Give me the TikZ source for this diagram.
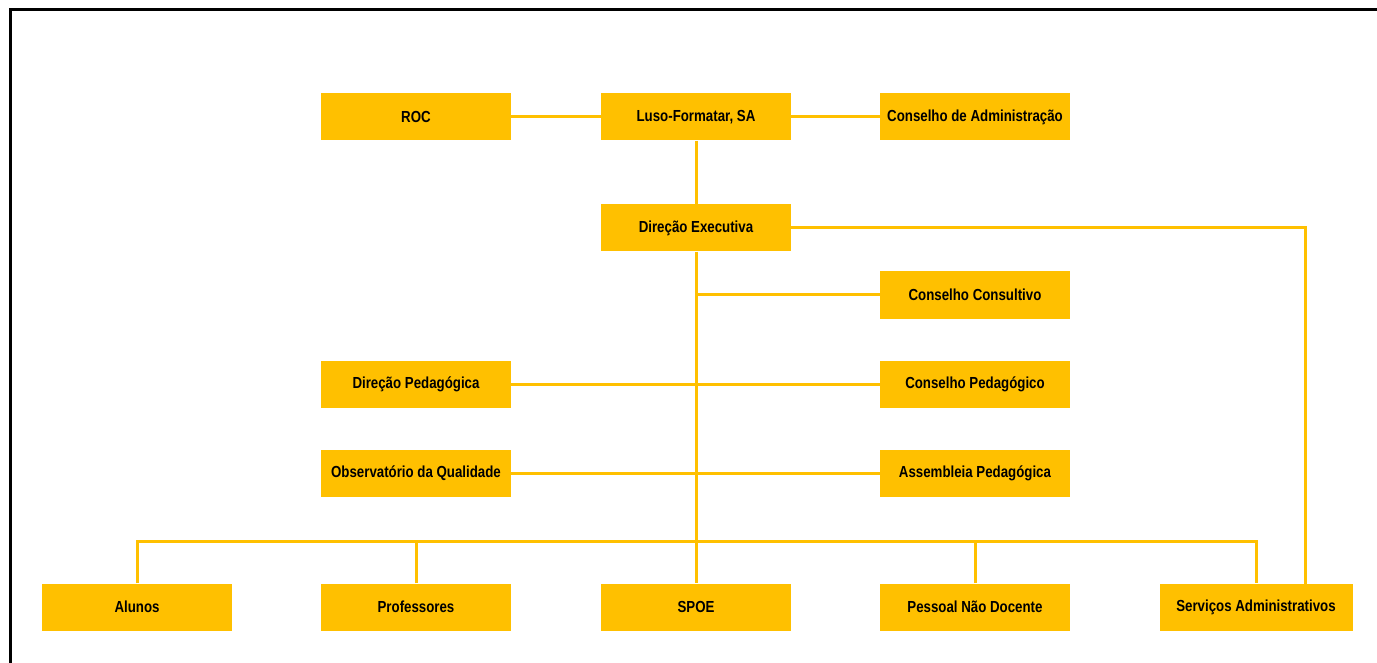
\documentclass[tikz,border=0pt]{standalone}
\usepackage{fontspec}
\setmainfont{Liberation Sans}[FakeStretch=0.83]
\definecolor{boxc}{HTML}{FFC000}
\begin{document}
\begin{tikzpicture}[x=1pt,y=-1pt,
  orgbox/.style={rectangle, fill=boxc, minimum width=190pt, minimum height=47pt, inner sep=0pt,
    font=\fontsize{16}{18}\selectfont\bfseries, text=black},
  conn/.style={draw=boxc, line width=3pt}]
\useasboundingbox (0,0) rectangle (1377,663);
\draw[line width=3pt] (1377,10) -- (10,10) -- (10,663);
% nodes
\node[orgbox] (roc) at (416,117) {ROC};
\node[orgbox] (luso) at (696,117) {Luso-Formatar, SA};
\node[orgbox] (ca) at (975,117) {Conselho de Administração};
\node[orgbox] (de) at (696,228) {Direção Executiva};
\node[orgbox] (cc) at (975,295) {Conselho Consultivo};
\node[orgbox] (dp) at (416,384) {Direção Pedagógica};
\node[orgbox] (cp) at (975,384) {Conselho Pedagógico};
\node[orgbox] (oq) at (416,473) {Observatório da Qualidade};
\node[orgbox] (ap) at (975,473) {Assembleia Pedagógica};
\node[orgbox] (alunos) at (137,607) {Alunos};
\node[orgbox] (prof) at (416,607) {Professores};
\node[orgbox] (spoe) at (696,607) {SPOE};
\node[orgbox] (pnd) at (975,607) {Pessoal Não Docente};
\node[orgbox, minimum width=193pt] (sa) at (1256,607) {Serviços Administrativos};
\coordinate (bus) at (696,541);
\coordinate (sadrop) at (1305,584);
% connectors
\path[conn] (roc.east) -- (luso.west);
\path[conn] (luso.east) -- (ca.west);
\path[conn] (luso.south) -- (de.north);
\path[conn] (de.south) -- (spoe.north);
\path[conn] (de.east) -| (sadrop);
\path[conn] (cc.west) -- (cc.west -| de.south);
\path[conn] (dp.east) -- (cp.west);
\path[conn] (oq.east) -- (ap.west);
\path[conn] (alunos.north) |- (bus) -| (sa.north);
\path[conn] (prof.north) -- (prof.north |- bus);
\path[conn] (pnd.north) -- (pnd.north |- bus);
\end{tikzpicture}
\end{document}
